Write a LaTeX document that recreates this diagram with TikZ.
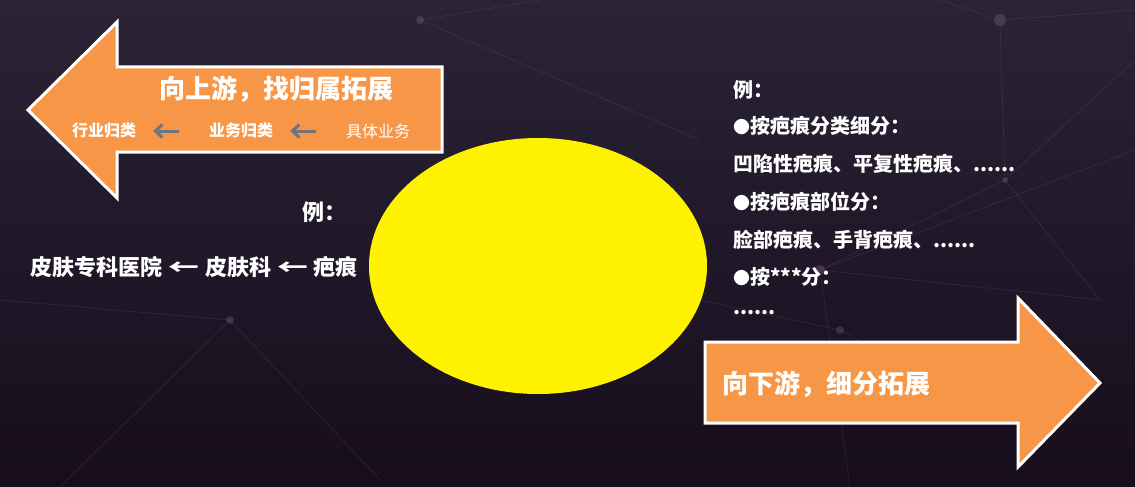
\documentclass[tikz,border=0pt]{standalone}
\usepackage{fontspec}
\setmainfont{Noto Sans CJK SC}
\usetikzlibrary{arrows.meta,shapes.geometric}
\definecolor{bgtop}{HTML}{2A2436}
\definecolor{bgbot}{HTML}{170D1C}
\definecolor{orangeA}{HTML}{F79646}
\definecolor{netc}{HTML}{8A6A8E}
\definecolor{grayarr}{HTML}{6E7480}
\newcommand{\bul}{{\fontsize{17}{20}\selectfont ●}}
\newcommand{\larr}{\hspace{6pt}\scalebox{1.4}[1]{←}\hspace{6pt}}
\tikzset{
  bigarrow/.style={draw=white, line width=3pt, fill=orangeA, line join=miter},
  wtext/.style={text=white, font=\bfseries\fontsize{20}{24}\selectfont, inner sep=0pt},
  chaintext/.style={text=white, font=\bfseries\fontsize{22}{26}\selectfont, inner sep=0pt},
  titletext/.style={text=white, font=\bfseries\fontsize{26}{30}\selectfont, inner sep=0pt},
  smalltext/.style={text=white, font=\bfseries\fontsize{16}{18}\selectfont, inner sep=0pt},
  graylink/.style={draw=grayarr, line width=3pt, -{Straight Barb[length=7pt,width=13pt]}},
  netline/.style={draw=netc, line width=0.6pt, opacity=0.22},
  netdot/.style={fill=netc, opacity=0.32}
}
\begin{document}
\begin{tikzpicture}[x=1pt,y=-1pt]
\useasboundingbox (0,0) rectangle (1135,487);
\shade[top color=bgtop, bottom color=bgbot] (0,0) rectangle (1135,487);
% faint background network
\draw[netline] (1000,20) -- (1005,180) -- (820,270) -- (1135,150);
\draw[netline] (1005,180) -- (1135,60) (1005,180) -- (1100,300) -- (820,270);
\draw[netline] (1000,20) -- (940,0) (1000,20) -- (1135,10) (820,270) -- (850,487);
\draw[netline] (420,20) -- (540,0) (420,20) -- (700,140);
\draw[netline] (230,320) -- (60,487) (230,320) -- (380,480) (230,320) -- (0,300);
\draw[netline] (840,330) -- (1000,420) (840,330) -- (700,300);
\fill[netdot] (1000,20) circle (6pt) (1005,180) circle (3pt) (820,270) circle (5pt)
  (420,20) circle (4pt) (230,320) circle (4pt) (840,330) circle (4pt);
% left arrow
\draw[bigarrow] (28,110) -- (117,22) -- (117,67) -- (442,67) -- (442,152) -- (117,152) -- (117,198) -- cycle;
\node[titletext] (uptitle) at (276,89) {向上游，找归属拓展};
\node[smalltext] (n1) at (104,131) {行业归类};
\node[smalltext] (n2) at (241,131) {业务归类};
\node[smalltext, font=\fontsize{16}{18}\selectfont] (n3) at (378,131) {具体业务};
\draw[graylink] ([xshift=-30pt]n3.west) -- ([xshift=17pt]n2.east);
\draw[graylink] ([xshift=-30pt]n2.west) -- ([xshift=17pt]n1.east);
% right arrow
\draw[bigarrow] (705,342) -- (1018,342) -- (1018,298) -- (1100,383) -- (1018,467) -- (1018,423) -- (705,423) -- cycle;
\node[titletext, anchor=west] (downtitle) at (722,384) {向下游，细分拓展};
% ellipse
\node[draw=none, fill=yellow, ellipse, minimum width=338pt, minimum height=256pt, inner sep=0pt] (core) at (538,266) {};
% left example
\node[chaintext, anchor=east] (lex) at (347,212) {例：};
\node[chaintext, anchor=west] (lchain) at (30,267) {皮肤专科医院\larr 皮肤科\larr 疤痕};
% right example
\node[wtext, anchor=west] (r1) at (733,90) {例：};
\node[wtext, anchor=west] (r2) at (733,126) {\bul 按疤痕分类细分：};
\node[wtext, anchor=west] (r3) at (733,164) {凹陷性疤痕、平复性疤痕、......};
\node[wtext, anchor=west] (r4) at (733,202) {\bul 按疤痕部位分：};
\node[wtext, anchor=west] (r5) at (733,240) {脸部疤痕、手背疤痕、......};
\node[wtext, anchor=west] (r6) at (733,277) {\bul 按***分：};
\node[wtext, anchor=west] (r7) at (733,313) {......};
\end{tikzpicture}
\end{document}
